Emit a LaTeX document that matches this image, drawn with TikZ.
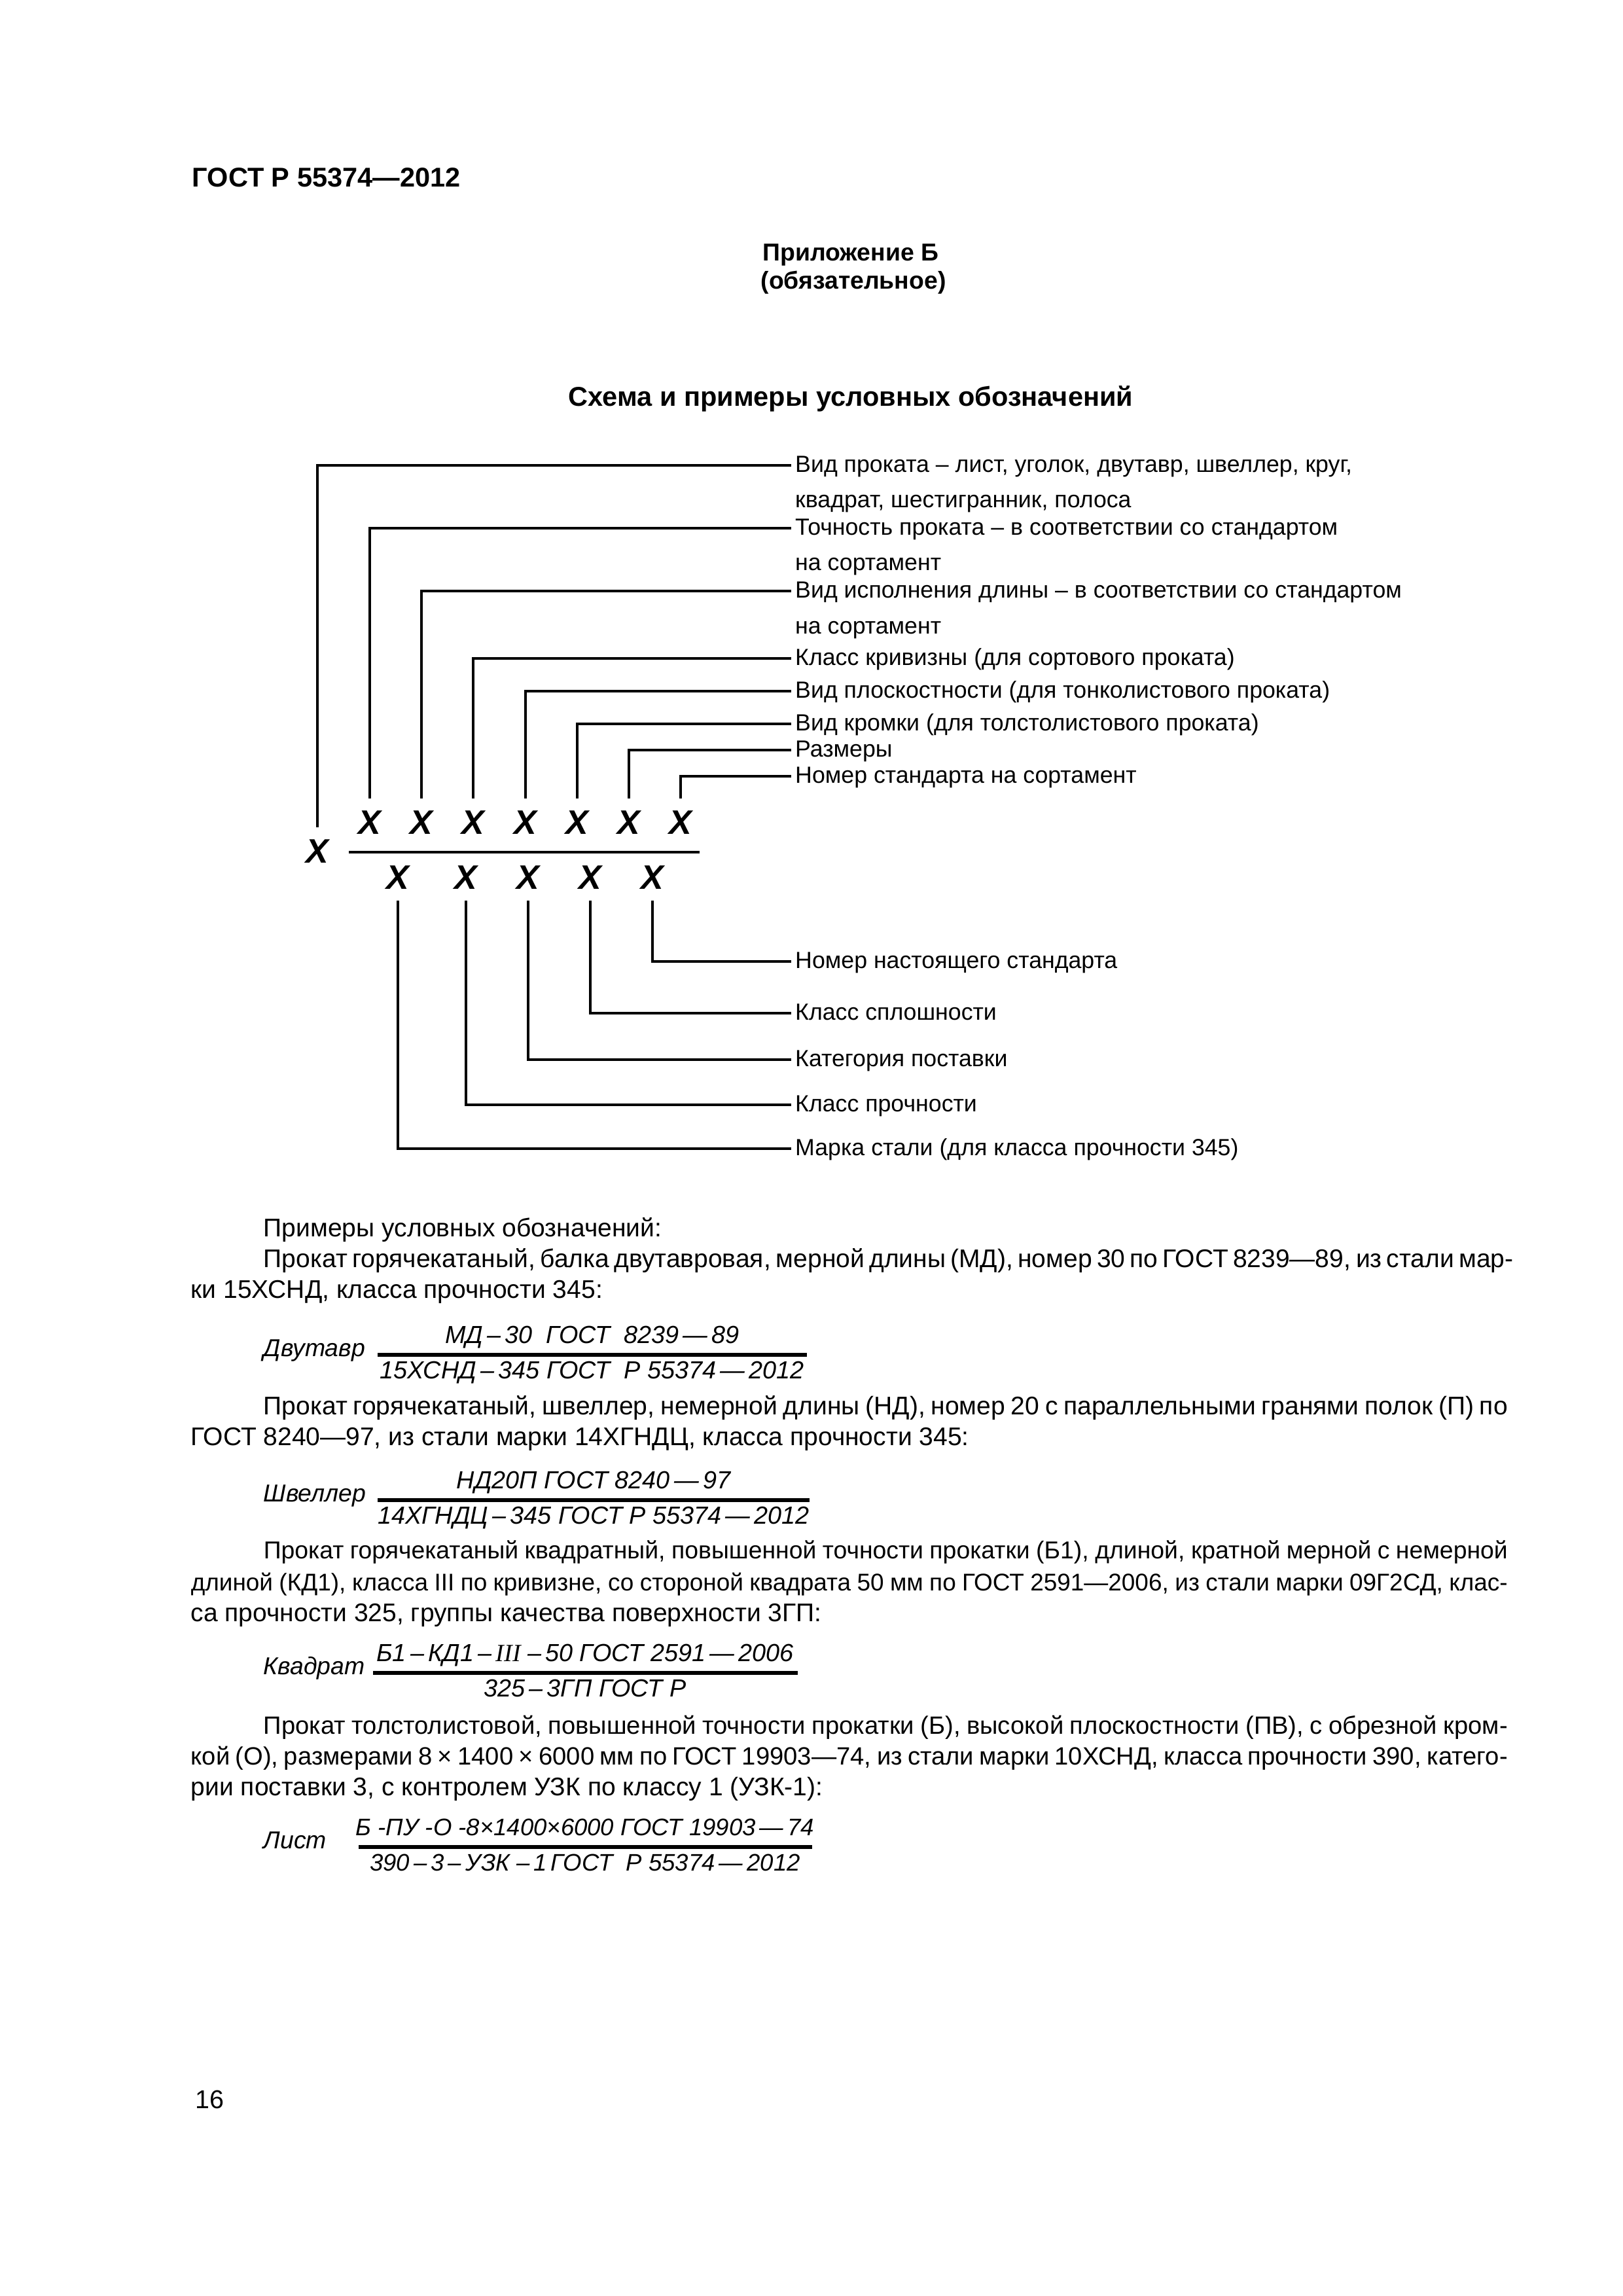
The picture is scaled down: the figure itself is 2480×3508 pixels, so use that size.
\documentclass[tikz,border=0pt]{standalone}
\usepackage{fontspec}
\setmainfont{Liberation Sans}
\newfontfamily\romfont{Liberation Serif}

\begin{document}
\begin{tikzpicture}[x=0.084667mm, y=-0.084667mm,
    every node/.style={inner sep=0pt},
    body/.style={font=\fontsize{9.4}{11}\selectfont, anchor=base west},
    head/.style={font=\fontsize{10}{12}\selectfont\bfseries, anchor=base},
    lbl/.style={font=\fontsize{8.6}{10}\selectfont, anchor=west, inner xsep=1.3pt,
        text height=6.6pt, text depth=1.4pt},
    xmark/.style={font=\fontsize{12.5}{14}\selectfont\bfseries\itshape,
        inner ysep=4pt, text height=9pt, text depth=0pt},
    leader/.style={line width=0.85pt},
    fword/.style={font=\fontsize{9}{11}\selectfont\itshape, anchor=base west},
    fterm/.style={font=\fontsize{9.1}{11}\selectfont\itshape, anchor=base},
    fbar/.style={line width=1.3pt}]

    % Page size (A4 at 300 dpi, y runs down)
    \useasboundingbox (0,0) rectangle (2480,3508);

    % Parameters
    \def\lx{1209}
    \def\pw{160.95mm}
    \def\fw{170.35mm}

    % Page head
    \node[body, font=\fontsize{10}{12}\selectfont\bfseries] (gost) at (293,285) {ГОСТ Р 55374—2012};
    \node[head, font=\fontsize{9}{11}\selectfont\bfseries] (app) at (1300,398) {Приложение Б};
    \node[head, font=\fontsize{9}{11}\selectfont\bfseries] (appkind) at (1304,441) {(обязательное)};
    \node[head] (schema) at (1300,620) {Схема и примеры условных обозначений};

    % Labels above
    \node[lbl] (vid) at (\lx,711) {Вид проката – лист, уголок, двутавр, швеллер, круг,};
    \node[lbl] (vidb) at (\lx,765) {квадрат, шестигранник, полоса};
    \node[lbl] (toch) at (\lx,807) {Точность проката – в соответствии со стандартом};
    \node[lbl] (tochb) at (\lx,861) {на сортамент};
    \node[lbl] (isp) at (\lx,903) {Вид исполнения длины – в соответствии со стандартом};
    \node[lbl] (ispb) at (\lx,958) {на сортамент};
    \node[lbl] (kriv) at (\lx,1006) {Класс кривизны (для сортового проката)};
    \node[lbl] (plos) at (\lx,1056) {Вид плоскостности (для тонколистового проката)};
    \node[lbl] (krom) at (\lx,1106) {Вид кромки (для толстолистового проката)};
    \node[lbl] (razm) at (\lx,1146) {Размеры};
    \node[lbl] (sort) at (\lx,1186) {Номер стандарта на сортамент};

    % Labels below
    \node[lbl] (nomer) at (\lx,1469) {Номер настоящего стандарта};
    \node[lbl] (splosh) at (\lx,1548) {Класс сплошности};
    \node[lbl] (kat) at (\lx,1619) {Категория поставки};
    \node[lbl] (proch) at (\lx,1688) {Класс прочности};
    \node[lbl] (marka) at (\lx,1755) {Марка стали (для класса прочности 345)};

    % Designation scheme
    \node[xmark] (xv) at (485,1300) {X};
    \foreach \i/\x in {1/565,2/644,3/723,4/803,5/882,6/961,7/1040}
        \node[xmark] (t\i) at (\x,1256) {X};
    \foreach \i/\x in {1/608,2/712,3/807,4/902,5/997}
        \node[xmark] (b\i) at (\x,1340) {X};
    \draw[leader] (533,1302) -- (1069,1302);

    % Leaders
    \draw[leader] (xv.north) |- (vid.west);
    \foreach \i/\l in {1/toch,2/isp,3/kriv,4/plos,5/krom,6/razm,7/sort}
        \draw[leader] (t\i.north) |- (\l.west);
    \foreach \i/\l in {1/marka,2/proch,3/kat,4/splosh,5/nomer}
        \draw[leader] (b\i.south) |- (\l.west);

    % Examples
    \node[body] (ex) at (402,1889) {Примеры условных обозначений:};
    \node[body] (p1a) at (402,1936) {\makebox[\pw][s]{Прокат горячекатаный, балка двутавровая, мерной длины (МД), номер 30 по ГОСТ 8239—89, из стали мар-}};
    \node[body] (p1b) at (291,1983) {ки 15ХСНД, класса прочности 345:};

    \node[fword] (dvut) at (402,2072) {Двутавр};
    \node[fterm] (dvutn) at (905,2052) {МД\,–\,30~~ГОСТ~~8239\,—\,89};
    \node[fterm] (dvutd) at (905,2106) {15ХСНД\,–\,345 ГОСТ~~Р 55374\,—\,2012};
    \draw[fbar] (577,2070) -- (1233,2070);

    \node[body] (p2a) at (402,2161) {\makebox[\pw][s]{Прокат горячекатаный, швеллер, немерной длины (НД), номер 20 с параллельными гранями полок (П) по}};
    \node[body] (p2b) at (291,2208) {ГОСТ 8240—97, из стали марки 14ХГНДЦ, класса прочности 345:};

    \node[fword] (shv) at (402,2294) {Швеллер};
    \node[fterm] (shvn) at (907,2274) {НД20П ГОСТ 8240\,—\,97};
    \node[fterm] (shvd) at (907,2328) {14ХГНДЦ\,–\,345 ГОСТ Р 55374\,—\,2012};
    \draw[fbar] (577,2292) -- (1237,2292);

    \node[body, font=\fontsize{9}{11}\selectfont] (p3a) at (402,2381) {\makebox[\pw][s]{Прокат горячекатаный квадратный, повышенной точности прокатки (Б1), длиной, кратной мерной с немерной}};
    \node[body, font=\fontsize{8.9}{11}\selectfont] (p3b) at (291,2430) {\makebox[\fw][s]{длиной (КД1), класса III по кривизне, со стороной квадрата 50 мм по ГОСТ 2591—2006, из стали марки 09Г2СД, клас-}};
    \node[body] (p3c) at (291,2477) {са прочности 325, группы качества поверхности 3ГП:};

    \node[fword] (kvad) at (402,2558) {Квадрат};
    \node[fterm] (kvadn) at (894,2538) {Б1\,–\,КД1\,–\,{\romfont\itshape III} –\,50 ГОСТ 2591\,—\,2006};
    \node[fterm] (kvadd) at (894,2592) {325\,–\,3ГП ГОСТ Р};
    \draw[fbar] (570,2556) -- (1219,2556);

    \node[body, font=\fontsize{9.2}{11}\selectfont] (p4a) at (402,2649) {\makebox[\pw][s]{Прокат толстолистовой, повышенной точности прокатки (Б), высокой плоскостности (ПВ), с обрезной кром-}};
    \node[body, font=\fontsize{9.2}{11}\selectfont] (p4b) at (291,2696) {\makebox[\fw][s]{кой (О), размерами 8 × 1400 × 6000 мм по ГОСТ 19903—74, из стали марки 10ХСНД, класса прочности 390, катего-}};
    \node[body] (p4c) at (291,2743) {рии поставки 3, с контролем УЗК по классу 1 (УЗК-1):};

    \node[fword] (list) at (402,2824) {Лист};
    \node[fterm, font=\fontsize{8.8}{11}\selectfont\itshape] (listn) at (894,2804) {Б -ПУ -О -8×1400×6000 ГОСТ 19903\,—\,74};
    \node[fterm, font=\fontsize{8.8}{11}\selectfont\itshape] (listd) at (894,2858) {390\,–\,3\,–\,УЗК –\,1\,ГОСТ~~Р 55374\,—\,2012};
    \draw[fbar] (548,2822) -- (1241,2822);

    % Page number
    \node[body, font=\fontsize{9.5}{11}\selectfont] (page) at (298,3221) {16};

\end{tikzpicture}
\end{document}
